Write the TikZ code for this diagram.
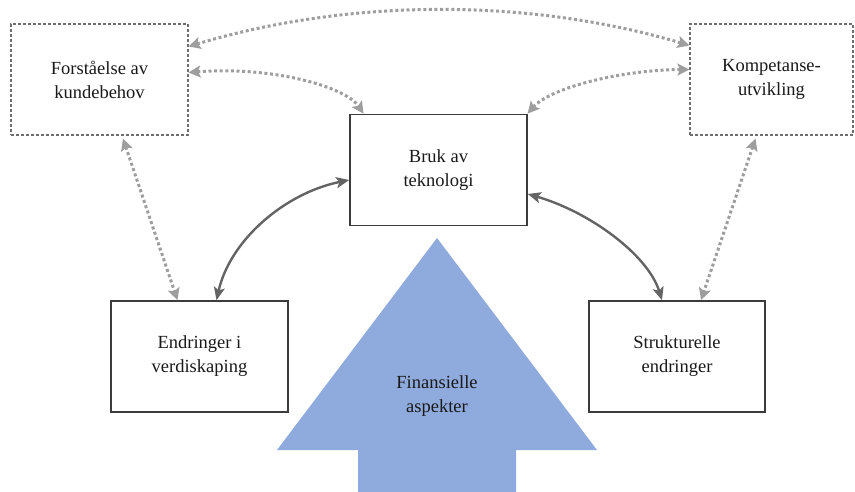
\documentclass[tikz,border=0pt]{standalone}
\usepackage{fontspec}
\setmainfont{Liberation Serif}
\usetikzlibrary{arrows.meta}
\definecolor{bluefill}{RGB}{143,170,220}
\definecolor{dotgray}{RGB}{158,158,158}
\definecolor{solidgray}{RGB}{100,100,100}
\definecolor{boxedge}{RGB}{60,60,60}
\definecolor{dashedge}{RGB}{110,110,110}
\begin{document}
\begin{tikzpicture}[x=1pt,y=-1pt,
  lbl/.style={align=center,font=\fontsize{18.5}{24}\selectfont,text=black!90},
  solidbox/.style={lbl,draw=boxedge,line width=1.6pt,minimum width=177pt,minimum height=111pt,inner sep=0pt},
  dashbox/.style={lbl,draw=dashedge,line width=1.1pt,dash pattern=on 3pt off 2pt,minimum width=177pt,minimum height=111pt,inner sep=0pt},
  dotlink/.style={draw=dotgray,line width=3pt,dash pattern=on 3pt off 2.6pt,
    {Stealth[length=12pt,width=12pt,inset=2.5pt,fill=dotgray]}-{Stealth[length=12pt,width=12pt,inset=2.5pt,fill=dotgray]}},
  solidlink/.style={draw=solidgray,line width=2.4pt,
    {Stealth[length=13pt,width=11pt,inset=3pt]}-{Stealth[length=13pt,width=11pt,inset=3pt]}}
]
\useasboundingbox (0,0) rectangle (855,492);

% big upward arrow in the background
\fill[bluefill] (437,238) -- (597,450) -- (516,450) -- (516,492) -- (358,492) -- (358,450) -- (277,450) -- cycle;
\node[lbl] (fin) at (437,396) {Finansielle\\aspekter};

% boxes
\node[dashbox] (fk) at (99.5,79.5) {Forståelse av\\kundebehov};
\node[dashbox,minimum width=163pt] (ku) at (771.5,79.5) {Kompetanse-\\utvikling};
\node[solidbox] (bt) at (438.5,170) {Bruk av\\teknologi};
\node[solidbox] (eb) at (199.5,356.5) {Endringer i\\verdiskaping};
\node[solidbox,minimum width=176pt] (se) at (677,356.5) {Strukturelle\\endringer};

% dotted links
\draw[dotlink] ([yshift=33pt]fk.east) .. controls (350,-2) and (530,-2) .. ([yshift=34pt]ku.west);
\draw[dotlink] ([yshift=7pt]fk.east) .. controls (270,66) and (345,86) .. ([xshift=-75pt]bt.north);
\draw[dotlink] ([xshift=89pt]bt.north) .. controls (550,88) and (620,70) .. ([yshift=10pt]ku.west);
\draw[dotlink] ([xshift=23.5pt,yshift=-3pt]fk.south) -- ([xshift=-22pt]eb.north);
\draw[dotlink] ([xshift=-16pt,yshift=-3pt]ku.south) -- ([xshift=24pt]se.north);

% solid links
\draw[solidlink] ([xshift=17pt]eb.north) .. controls (230,240) and (285,193) .. ([yshift=-10pt]bt.west);
\draw[solidlink] ([yshift=-24pt]bt.east) .. controls (590,212) and (648,255) .. ([xshift=-15pt]se.north);
\end{tikzpicture}
\end{document}
